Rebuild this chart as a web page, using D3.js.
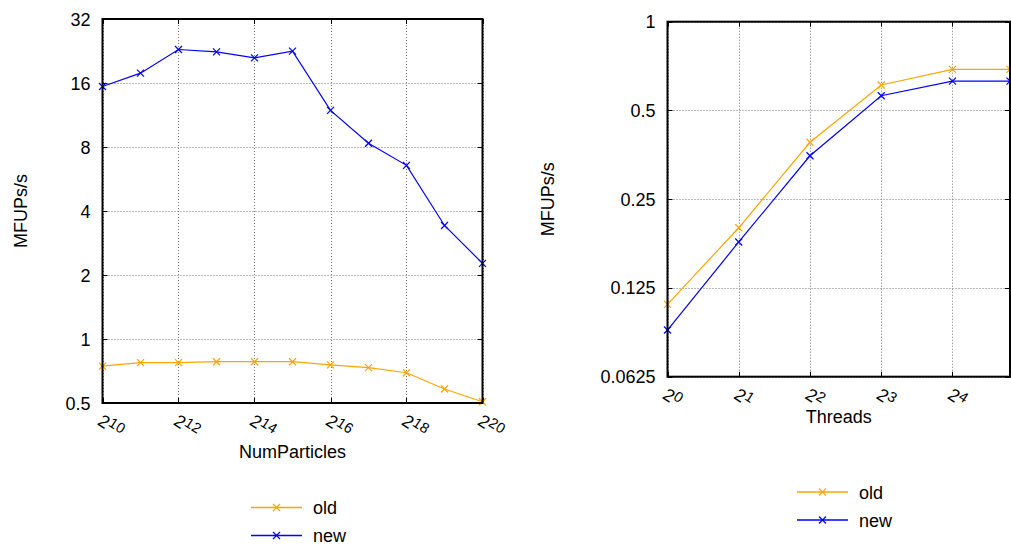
<!DOCTYPE html>
<html>
<head>
<meta charset="utf-8">
<script src="https://cdn.jsdelivr.net/npm/d3@7"></script>
<style>
  html, body { margin: 0; padding: 0; background: #fff; }
  svg { display: block; }
  text { font-family: "Liberation Sans", Arial, Helvetica, sans-serif; fill: #000; }
</style>
</head>
<body>
<svg id="chart" width="1011" height="550"></svg>
<script>
// ---- Left panel: throughput vs. number of particles ----
const particleCounts = [1024, 2048, 4096, 8192, 16384, 32768, 65536, 131072, 262144, 524288, 1048576];
const particlesOld = [0.746, 0.774, 0.774, 0.782, 0.782, 0.782, 0.755, 0.733, 0.694, 0.582, 0.507];
const particlesNew = [15.4, 17.8, 23.0, 22.4, 21.0, 22.6, 11.9, 8.33, 6.56, 3.42, 2.27];
const particleYTicks = [0.5, 1, 2, 4, 8, 16, 32];
const particleXExponents = [10, 12, 14, 16, 18, 20];

// ---- Right panel: throughput vs. thread count ----
const threadCounts = [1, 2, 4, 8, 16, 28];
const threadsOld = [0.110, 0.200, 0.390, 0.610, 0.689, 0.689];
const threadsNew = [0.090, 0.179, 0.351, 0.561, 0.629, 0.629];
const threadYTicks = [0.0625, 0.125, 0.25, 0.5, 1];
const threadXExponents = [0, 1, 2, 3, 4];

const seriesNames = ["old", "new"];
const seriesColors = ["#ffa500", "#0000ff"];

const svg = d3.select("#chart");

function panel(opts) {
  const g = svg.append("g");
  const x = d3.scaleLog().base(2).domain(opts.xDomain).range([opts.left, opts.right]);
  const y = d3.scaleLog().base(2).domain(opts.yDomain).range([opts.bottom, opts.top]);

  // grid
  const grid = g.append("g").attr("stroke", "#777").attr("stroke-width", 1)
    .attr("stroke-dasharray", "1,2");
  opts.xExps.forEach(e => {
    const xv = Math.round(x(Math.pow(2, e))) + 0.5;
    grid.append("line").attr("x1", xv).attr("x2", xv).attr("y1", opts.top).attr("y2", opts.bottom);
  });
  opts.yTicks.forEach(t => {
    const yv = Math.round(y(t)) + 0.5;
    grid.append("line").attr("x1", opts.left).attr("x2", opts.right).attr("y1", yv).attr("y2", yv);
  });

  // tick marks on all sides
  const ticks = g.append("g").attr("stroke", "#000").attr("stroke-width", 1);
  opts.xExps.forEach(e => {
    const xv = Math.round(x(Math.pow(2, e))) + 0.5;
    ticks.append("line").attr("x1", xv).attr("x2", xv).attr("y1", opts.bottom).attr("y2", opts.bottom - 5);
    ticks.append("line").attr("x1", xv).attr("x2", xv).attr("y1", opts.top).attr("y2", opts.top + 5);
  });
  opts.yTicks.forEach(t => {
    const yv = Math.round(y(t)) + 0.5;
    ticks.append("line").attr("x1", opts.left).attr("x2", opts.left + 5).attr("y1", yv).attr("y2", yv);
    ticks.append("line").attr("x1", opts.right).attr("x2", opts.right - 5).attr("y1", yv).attr("y2", yv);
  });

  // series
  const line = d3.line().x((d, i) => x(opts.xs[i])).y(d => y(d));
  opts.series.forEach((vals, si) => {
    const col = seriesColors[si];
    g.append("path").datum(vals).attr("d", line)
      .attr("fill", "none").attr("stroke", col).attr("stroke-width", 1.2);
    vals.forEach((v, i) => {
      const cx = x(opts.xs[i]), cy = y(v), s = 3.5;
      g.append("path")
        .attr("d", `M${cx - s},${cy - s}L${cx + s},${cy + s}M${cx - s},${cy + s}L${cx + s},${cy - s}`)
        .attr("stroke", col).attr("stroke-width", 1.2);
    });
  });

  // border
  g.append("rect").attr("x", opts.left).attr("y", opts.top)
    .attr("width", opts.right - opts.left).attr("height", opts.bottom - opts.top)
    .attr("fill", "none").attr("stroke", "#000").attr("stroke-width", 2);

  // y tick labels
  opts.yTicks.forEach(t => {
    g.append("text").attr("x", opts.left - 12).attr("y", y(t) + 6.5)
      .attr("text-anchor", "end").attr("font-size", 18).text(String(t));
  });

  // x tick labels: 2^n, rotated
  opts.xExps.forEach(e => {
    const x0 = x(Math.pow(2, e)) - 6, y0 = opts.bottom + 21;
    const t = g.append("text").attr("transform", `translate(${x0},${y0}) rotate(33)`)
      .attr("font-size", 18);
    t.append("tspan").text("2");
    t.append("tspan").attr("font-size", 14.5).attr("dy", -5).text(String(e));
  });

  // axis titles
  g.append("text").attr("x", (opts.left + opts.right) / 2).attr("y", opts.xTitleY)
    .attr("text-anchor", "middle").attr("font-size", 18).text(opts.xTitle);
  g.append("text").attr("transform", `translate(${opts.yTitleX},${(opts.top + opts.bottom) / 2}) rotate(-90)`)
    .attr("text-anchor", "middle").attr("font-size", 18).text("MFUPs/s");

  // legend
  seriesNames.forEach((name, si) => {
    const ly = opts.legendY[si], col = seriesColors[si];
    const lx0 = opts.legendX, lx1 = opts.legendX + 51, mx = (lx0 + lx1) / 2, s = 3.5;
    g.append("line").attr("x1", lx0).attr("x2", lx1).attr("y1", ly).attr("y2", ly)
      .attr("stroke", col).attr("stroke-width", 1.5);
    g.append("path").attr("d", `M${mx - s},${ly - s}L${mx + s},${ly + s}M${mx - s},${ly + s}L${mx + s},${ly - s}`)
      .attr("stroke", col).attr("stroke-width", 1.2);
    g.append("text").attr("x", lx1 + 11).attr("y", ly + 6.5).attr("font-size", 18).text(name);
  });
}

panel({
  left: 102.5, right: 482.5, top: 19, bottom: 403,
  xDomain: [particleCounts[0], particleCounts[particleCounts.length - 1]],
  yDomain: [particleYTicks[0], particleYTicks[particleYTicks.length - 1]],
  xs: particleCounts, series: [particlesOld, particlesNew],
  yTicks: particleYTicks, xExps: particleXExponents,
  xTitle: "NumParticles", xTitleY: 458, yTitleX: 27,
  legendX: 251, legendY: [507.5, 535.5]
});

panel({
  left: 667.5, right: 1010, top: 21.7, bottom: 376.7,
  xDomain: [threadCounts[0], threadCounts[threadCounts.length - 1]],
  yDomain: [threadYTicks[0], threadYTicks[threadYTicks.length - 1]],
  xs: threadCounts, series: [threadsOld, threadsNew],
  yTicks: threadYTicks, xExps: threadXExponents,
  xTitle: "Threads", xTitleY: 423, yTitleX: 554,
  legendX: 797, legendY: [492, 520]
});
</script>
</body>
</html>
